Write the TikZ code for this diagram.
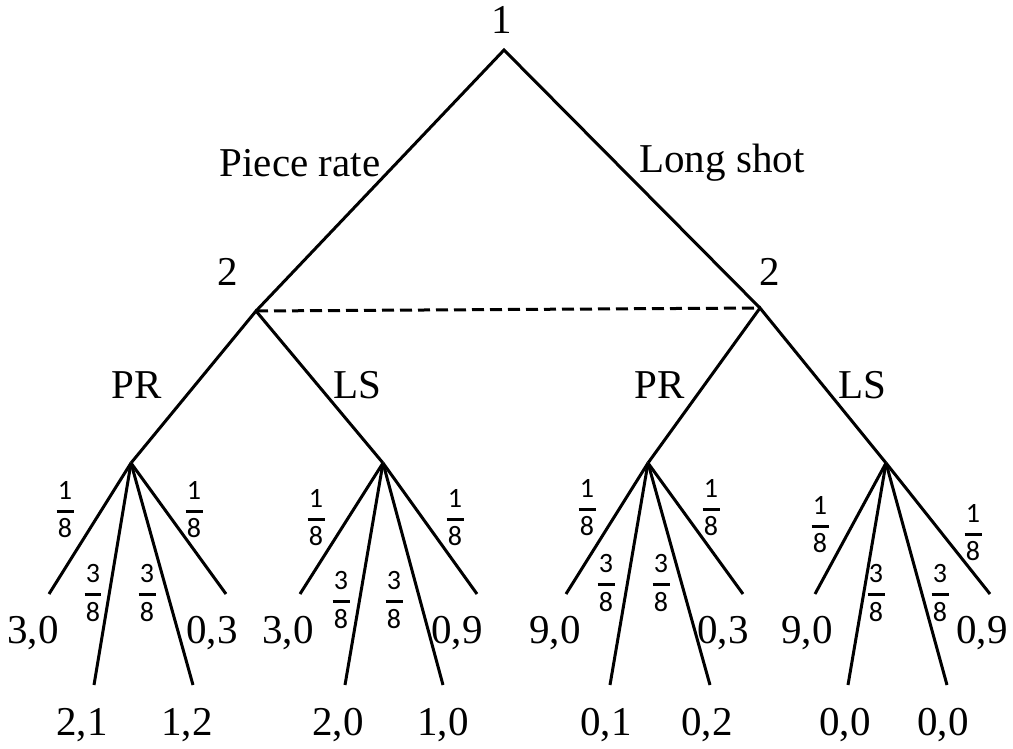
\documentclass[tikz,border=0pt]{standalone}
\usepackage{fontspec}
\setmainfont{Liberation Serif}
\newfontfamily\carl{Carlito}
\newcommand\fr[2]{\vbox{\offinterlineskip\halign{\hfil##\hfil\cr
  \carl #1\cr\noalign{\kern10pt}\rule{17pt}{3pt}\cr\noalign{\kern6pt}\carl #2\cr}}}
\begin{document}
\begin{tikzpicture}[x=1pt,y=-1pt,
  edge/.style={line width=3pt},
  info/.style={line width=3pt,dash pattern=on 12pt off 6pt},
  lbl/.style={font=\fontsize{41}{48}\selectfont, inner sep=0pt},
  prob/.style={font=\fontsize{28}{32}\selectfont, inner sep=0pt}]
\useasboundingbox (0,0) rectangle (1013,749);
% decision and chance nodes
\coordinate (r) at (504,50);
\coordinate (a) at (256,311);
\coordinate (b) at (760,308);
\coordinate (c1) at (131,463);
\coordinate (c2) at (383,463);
\coordinate (c3) at (648,463);
\coordinate (c4) at (886,463);
% leaves
\coordinate (l11) at (49,594);  \coordinate (l12) at (94,685);  \coordinate (l13) at (193,685); \coordinate (l14) at (226,594);
\coordinate (l21) at (300,594); \coordinate (l22) at (345,685); \coordinate (l23) at (443,685); \coordinate (l24) at (477,594);
\coordinate (l31) at (566,594); \coordinate (l32) at (610,685); \coordinate (l33) at (710,685); \coordinate (l34) at (743,594);
\coordinate (l41) at (815,594); \coordinate (l42) at (848,685); \coordinate (l43) at (947,685); \coordinate (l44) at (990,594);
% edges
\draw[edge,line join=miter] (a) -- (r) -- (b);
\draw[info] (a) -- (b);
\draw[edge] (c1) -- (a) -- (c2);
\draw[edge] (c3) -- (b) -- (c4);
\foreach \c in {1,2,3,4}{
  \foreach \l in {1,2,3,4}{
    \draw[edge] (c\c) -- (l\c\l);
  }
}
% player labels
\node[lbl] (p1) at (502,20) {1};
\node[lbl] (p2a) at (228,272) {2};
\node[lbl] (p2b) at (770,272) {2};
% action labels
\node[lbl] (pr) at (300,163) {Piece rate};
\node[lbl] (ls) at (722,163) {Long shot};
\node[lbl] (a1) at (137,385) {PR};
\node[lbl] (a2) at (357,385) {LS};
\node[lbl] (a3) at (660,385) {PR};
\node[lbl] (a4) at (862,385) {LS};
% probabilities
\node[prob] (q11) at (65,510) {\fr18};
\node[prob] (q12) at (93,593) {\fr38};
\node[prob] (q13) at (147,593) {\fr38};
\node[prob] (q14) at (194,510) {\fr18};
\node[prob] (q21) at (316,518) {\fr18};
\node[prob] (q22) at (341,600) {\fr38};
\node[prob] (q23) at (394,600) {\fr38};
\node[prob] (q24) at (455,518) {\fr18};
\node[prob] (q31) at (587,508) {\fr18};
\node[prob] (q32) at (606,583) {\fr38};
\node[prob] (q33) at (661,583) {\fr38};
\node[prob] (q34) at (711,508) {\fr18};
\node[prob] (q41) at (820,525) {\fr18};
\node[prob] (q42) at (876,593) {\fr38};
\node[prob] (q43) at (940,593) {\fr38};
\node[prob] (q44) at (973,533) {\fr18};
% payoffs
\node[lbl] (u11) at (33,633) {3,0};
\node[lbl] (u12) at (82,725) {2,1};
\node[lbl] (u13) at (187,725) {1,2};
\node[lbl] (u14) at (212,633) {0,3};
\node[lbl] (u21) at (288,633) {3,0};
\node[lbl] (u22) at (338,725) {2,0};
\node[lbl] (u23) at (443,725) {1,0};
\node[lbl] (u24) at (457,633) {0,9};
\node[lbl] (u31) at (555,633) {9,0};
\node[lbl] (u32) at (606,725) {0,1};
\node[lbl] (u33) at (707,725) {0,2};
\node[lbl] (u34) at (723,633) {0,3};
\node[lbl] (u41) at (807,633) {9,0};
\node[lbl] (u42) at (845,725) {0,0};
\node[lbl] (u43) at (943,725) {0,0};
\node[lbl] (u44) at (982,633) {0,9};
\end{tikzpicture}
\end{document}
